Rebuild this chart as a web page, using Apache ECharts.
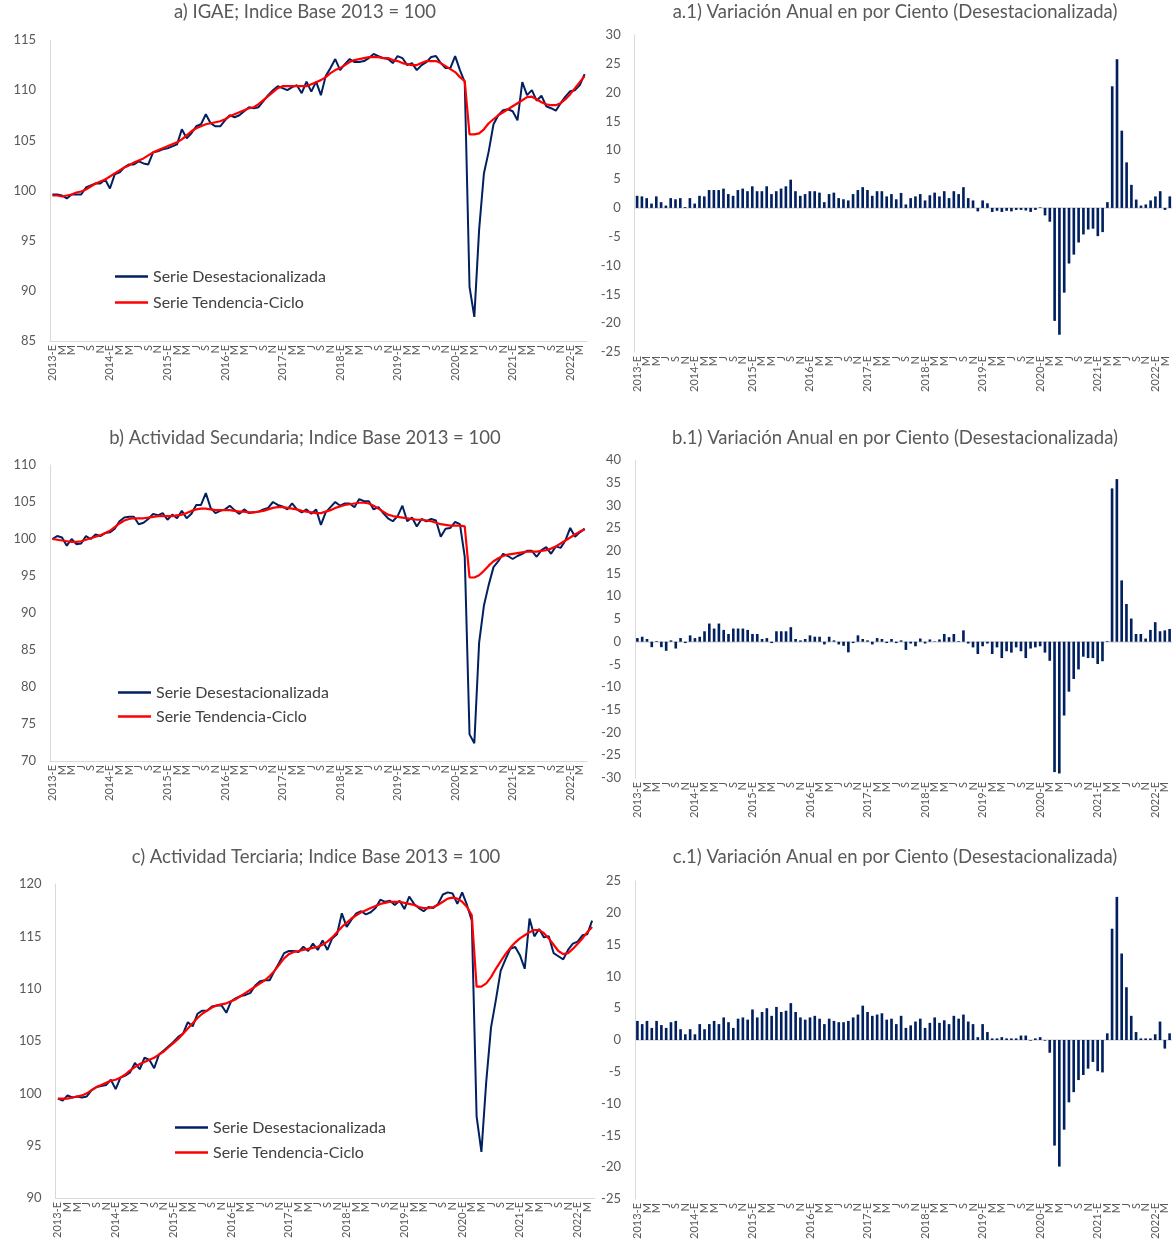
<!DOCTYPE html>
<html><head><meta charset="utf-8">
<script src="https://cdn.jsdelivr.net/npm/echarts@6/dist/echarts.min.js"></script>
<style>html,body{margin:0;padding:0;background:#fff}#c{width:1174px;height:1241px}</style>
</head><body><div id="c"></div>
<script>
// ---------- DATA ----------
const years = [2013,2014,2015,2016,2017,2018,2019,2020,2021,2022];
const monthLetters = ['E','F','M','A','M','J','J','A','S','O','N','D'];
const nMonths = 112; // 2013-E .. 2022-A
const categories = [];
for (let k = 0; k < nMonths; k++) {
  categories.push(years[Math.floor(k / 12)] + '-' + monthLetters[k % 12]);
}

const saIGAE = [99.6,99.6,99.5,99.2,99.6,99.6,99.6,100.3,100.5,100.7,100.7,101.1,
100.2,101.6,101.8,102.3,102.6,102.6,102.9,102.7,102.6,103.8,103.9,104.1,
104.2,104.4,104.6,106.1,105.2,105.7,106.4,106.6,107.6,106.7,106.4,106.4,
107.0,107.5,107.3,107.5,107.9,108.3,108.2,108.3,108.9,109.5,110.0,110.4,
110.2,110.0,110.3,110.5,109.7,110.85,109.85,110.85,109.5,111.4,112.2,113.1,
112.0,112.6,113.1,112.8,112.8,112.9,113.2,113.6,113.4,113.2,113.1,112.7,
113.4,113.2,112.5,112.7,112.0,112.5,112.8,113.3,113.4,112.7,112.2,112.2,
113.4,112.0,110.8,90.4,87.4,96.1,101.7,103.9,106.6,107.5,108.0,108.1,
107.9,107.0,110.8,109.5,110.0,108.95,109.45,108.4,108.2,107.95,108.7,109.35,
109.9,110.0,110.5,111.6];
const tcIGAE = [99.5,99.5,99.4,99.5,99.6,99.8,99.9,100.1,100.4,100.7,100.9,101.1,
101.4,101.7,102.0,102.3,102.5,102.8,103.0,103.2,103.5,103.8,104.0,104.2,
104.4,104.6,104.8,105.1,105.5,105.9,106.2,106.4,106.6,106.7,106.8,106.9,
107.1,107.4,107.6,107.8,108.0,108.2,108.3,108.6,109.0,109.4,109.8,110.2,
110.4,110.4,110.4,110.4,110.4,110.4,110.6,110.8,111.0,111.3,111.7,112.0,
112.2,112.5,112.8,113.0,113.1,113.2,113.3,113.3,113.3,113.2,113.2,113.0,
112.9,112.7,112.6,112.5,112.5,112.7,112.9,112.9,112.9,112.7,112.4,112.1,
111.8,111.3,110.9,105.6,105.6,105.7,106.1,106.7,107.1,107.5,107.8,108.1,
108.4,108.7,109.0,109.3,109.35,109.1,108.8,108.6,108.5,108.5,108.7,109.1,
109.6,110.2,110.8,111.4];
const vaIGAE = [2.1,2.0,1.7,0.75,2.0,1.0,0.4,1.7,1.5,1.7,0.15,1.7,
0.75,2.1,2.0,3.1,3.1,3.1,3.35,2.4,2.1,3.1,3.35,2.9,
3.75,2.9,2.9,3.75,2.4,2.9,3.35,3.75,4.9,2.9,2.1,2.4,
2.9,2.9,2.65,1.0,2.4,2.65,1.7,1.5,1.3,2.4,3.1,3.6,
3.1,2.1,2.9,2.9,2.0,2.4,1.5,2.6,0.6,1.7,2.0,2.4,
1.3,2.2,2.65,2.0,2.9,1.7,2.9,2.4,3.6,1.7,1.3,-0.6,
1.3,0.8,-0.7,-0.5,-0.7,-0.5,-0.6,-0.35,-0.35,-0.45,-0.7,-0.35,
0.1,-1.3,-2.4,-19.6,-22.0,-14.7,-9.65,-8.1,-6.0,-4.6,-3.75,-3.6,
-4.9,-4.2,1.0,21.1,25.8,13.4,7.9,4.0,1.45,0.4,0.6,1.3,
2.0,2.9,-0.35,2.0];

const saSec = [100.0,100.4,100.2,99.1,100.0,99.3,99.4,100.4,100.0,100.6,100.4,100.8,
100.9,101.4,102.4,102.9,103.0,103.0,102.0,102.2,102.7,103.4,103.2,103.5,
102.6,103.3,102.8,103.8,102.8,103.4,104.6,104.6,106.2,104.2,103.5,103.8,
104.0,104.5,103.9,103.4,104.0,103.5,103.6,103.7,104.0,104.2,105.0,104.6,
104.4,104.0,104.8,104.0,103.6,104.0,103.4,104.0,101.9,103.6,104.3,105.0,
104.5,104.8,104.8,104.3,105.4,105.1,105.1,104.0,104.3,103.5,102.8,102.4,
103.1,104.5,102.4,102.9,101.7,102.7,102.4,102.7,102.5,100.3,101.4,101.5,
102.3,102.0,97.6,73.6,72.4,86.0,91.0,93.8,96.2,97.0,98.0,97.7,
97.3,97.7,98.0,98.4,98.4,97.6,98.5,98.9,98.0,99.0,98.8,99.8,
101.5,100.3,100.9,101.4];
const tcSec = [100.0,99.9,99.8,99.7,99.6,99.6,99.7,99.9,100.1,100.3,100.5,100.8,
101.1,101.6,102.1,102.5,102.7,102.8,102.8,102.8,102.9,103.0,103.1,103.1,
103.1,103.1,103.2,103.3,103.5,103.8,104.0,104.1,104.1,104.0,103.9,103.9,
103.9,103.9,103.8,103.7,103.7,103.6,103.6,103.7,103.8,104.0,104.2,104.3,
104.3,104.2,104.1,104.0,103.8,103.7,103.6,103.5,103.5,103.7,103.9,104.2,
104.4,104.6,104.7,104.8,104.9,104.9,104.8,104.5,104.1,103.7,103.3,103.1,
103.0,102.9,102.8,102.7,102.6,102.6,102.5,102.4,102.2,102.0,101.9,101.8,
101.8,101.8,101.7,94.8,94.8,95.1,95.7,96.4,97.0,97.4,97.7,97.9,
98.0,98.1,98.2,98.3,98.3,98.3,98.4,98.5,98.7,99.0,99.4,99.8,
100.2,100.6,101.0,101.3];
const vaSec = [0.8,1.1,0.6,-1.2,0.15,-1.2,-2.0,0.3,-1.5,0.8,-0.3,1.4,
0.8,1.1,2.3,4.0,2.9,4.0,2.6,1.7,2.9,2.9,2.9,2.6,
1.7,1.7,0.6,0.8,-0.3,2.3,2.3,2.3,3.2,0.6,0.3,0.6,
1.4,1.1,1.1,-0.6,1.1,0.3,-0.6,-0.9,-2.35,-0.3,1.4,0.6,
0.3,-0.6,0.8,0.6,-0.3,0.6,-0.3,0.3,-1.8,-0.4,-1.0,0.7,
-0.4,0.5,0.1,0.5,1.7,1.0,1.7,0.15,2.5,-0.4,-1.25,-2.7,
-1.0,-0.4,-2.7,-1.25,-3.6,-2.1,-2.4,-1.25,-2.1,-3.6,-1.5,-1.25,
-1.0,-2.4,-4.2,-28.7,-29.0,-16.25,-11.0,-8.2,-6.1,-3.3,-3.6,-3.6,
-4.9,-4.3,0.15,33.75,35.8,13.5,8.3,5.1,1.7,1.7,0.7,2.6,
4.3,2.3,2.5,2.8];

const saTer = [99.5,99.3,99.8,99.6,99.7,99.6,99.7,100.3,100.6,100.7,100.8,101.3,
100.4,101.5,101.7,102.0,102.9,102.3,103.4,103.2,102.4,103.7,104.1,104.5,
104.9,105.4,105.7,106.8,106.4,107.6,107.9,107.9,108.3,108.4,108.4,107.7,
108.8,109.1,109.3,109.4,109.6,110.3,110.7,110.8,110.8,111.7,112.5,113.4,
113.6,113.6,113.5,114.0,113.6,114.3,113.7,114.6,113.7,114.8,115.2,117.2,
115.9,116.6,117.2,117.4,117.1,117.3,117.7,118.5,118.3,118.4,118.0,118.4,
117.6,118.8,118.1,117.7,117.4,117.8,117.7,118.1,119.0,119.2,119.1,118.1,
119.2,118.0,116.5,97.8,94.4,101.1,106.3,108.9,111.7,112.8,113.8,114.0,
113.2,111.9,116.7,115.0,115.7,114.9,115.0,113.4,113.1,112.8,113.7,114.3,
114.5,115.1,115.2,116.5];
const tcTer = [99.5,99.5,99.5,99.6,99.7,99.8,100.0,100.3,100.6,100.8,101.0,101.2,
101.3,101.5,101.8,102.2,102.5,102.8,103.0,103.2,103.4,103.7,104.0,104.4,
104.8,105.2,105.7,106.2,106.7,107.2,107.6,107.9,108.2,108.4,108.5,108.6,
108.8,109.0,109.3,109.6,109.9,110.2,110.5,110.8,111.2,111.7,112.3,112.9,
113.3,113.5,113.6,113.7,113.8,113.9,114.0,114.2,114.5,114.9,115.4,115.9,
116.3,116.7,117.0,117.3,117.5,117.7,117.9,118.1,118.2,118.3,118.3,118.3,
118.2,118.1,118.0,117.8,117.7,117.7,117.8,118.0,118.3,118.6,118.7,118.6,
118.3,117.8,117.0,110.2,110.2,110.5,111.1,111.9,112.6,113.3,113.9,114.4,
114.8,115.1,115.4,115.6,115.6,115.3,114.8,114.2,113.6,113.3,113.4,113.8,
114.3,114.8,115.4,115.9];
const vaTer = [3.0,2.5,3.0,1.9,3.0,2.35,1.9,2.8,3.0,1.7,0.9,1.7,
0.9,2.5,1.7,2.5,3.0,2.5,3.55,2.8,1.9,3.35,3.55,3.2,
4.8,3.55,4.4,5.0,3.8,5.2,4.4,4.6,5.8,4.4,3.55,3.2,
3.55,3.8,3.35,2.5,3.35,3.0,2.8,2.8,3.0,3.55,4.0,5.4,
4.4,3.8,4.0,4.2,3.2,3.35,2.5,3.8,1.9,2.3,2.9,3.35,
1.9,2.7,3.55,2.7,3.1,2.5,3.8,3.35,4.0,2.9,2.5,0.45,
2.5,1.25,0.25,0.25,0.45,0.25,0.25,0.25,0.7,0.7,-0.1,0.25,
0.45,-0.1,-2.0,-16.6,-19.9,-14.1,-9.8,-8.2,-6.3,-5.5,-4.5,-3.45,
-4.9,-5.1,1.05,17.5,22.5,13.6,8.3,3.8,1.25,0.25,0.25,0.25,
0.9,2.9,-1.35,1.05];

const titles = [
  'a) IGAE; Indice Base 2013 = 100',
  'a.1) Variación Anual en por Ciento (Desestacionalizada)',
  'b) Actividad Secundaria; Indice Base 2013 = 100',
  'b.1) Variación Anual en por Ciento (Desestacionalizada)',
  'c) Actividad Terciaria; Indice Base 2013 = 100',
  'c.1) Variación Anual en por Ciento (Desestacionalizada)'
];
const legendNames = ['Serie Desestacionalizada', 'Serie Tendencia-Ciclo'];
const yRanges = [[85,115],[-25,30],[70,110],[-30,40],[90,120],[-25,25]];

// ---------- LAYOUT / STYLE ----------
const FONT = 'Lato, "Liberation Sans", sans-serif';
const NAVY = '#002060', RED = '#ff0000', AX = '#d9d9d9', TXT = '#595959';
const grids = [
  {left:50, top:40, width:537, height:301},
  {left:634.7, top:35, width:537.5, height:317},
  {left:50, top:465, width:537, height:296},
  {left:635, top:460, width:537, height:318},
  {left:55.5, top:884, width:539, height:314},
  {left:635, top:881, width:537, height:318}
];
const titlePos = [[305,3],[895,3],[305,429],[895,429],[316,848],[895,848]];
const legendPos = [[115,267],[118,683],[175,1118]];
const legendGap = [7,5,6];

const isBar = i => i % 2 === 1;

const option = {
  animation: false,
  textStyle: {fontFamily: FONT},
  title: titles.map((t, i) => ({
    text: t, left: titlePos[i][0], top: titlePos[i][1], textAlign: 'center', padding: 0,
    textStyle: {fontSize: 18.5, fontWeight: 'normal', color: TXT, fontFamily: FONT}
  })),
  legend: legendPos.map((p, i) => ({
    data: legendNames, orient: 'vertical', left: p[0], top: p[1], padding: 0,
    icon: 'rect', itemWidth: 33, itemHeight: 2.5, itemGap: legendGap[i],
    textStyle: {fontSize: 16, color: '#404040', fontFamily: FONT, lineHeight: 19}
  })),
  grid: grids.map(g => Object.assign({containLabel: false, outerBoundsMode: 'none'}, g)),
  xAxis: grids.map((g, i) => ({
    type: 'category', gridIndex: i, data: categories, boundaryGap: true,
    axisTick: {show: false},
    axisLine: {show: !isBar(i), onZero: false, lineStyle: {color: AX, width: 1}},
    axisLabel: {
      rotate: 90, interval: 0, fontSize: 11, color: TXT, margin: 4, fontFamily: FONT,
      hideOverlap: false,
      formatter: (v, idx) => (idx % 2 === 1 ? '' : (idx % 12 === 0 ? v : v.split('-')[1]))
    },
    splitLine: {show: false}
  })),
  yAxis: yRanges.map((r, i) => ({
    type: 'value', gridIndex: i, min: r[0], max: r[1], interval: 5,
    axisLine: {show: true, lineStyle: {color: AX, width: 1}},
    axisTick: {show: false}, splitLine: {show: false},
    axisLabel: {fontSize: 13, color: TXT, margin: 14, fontFamily: FONT}
  })),
  series: []
};

const lineSets = [[saIGAE, tcIGAE, 0], [saSec, tcSec, 2], [saTer, tcTer, 4]];
lineSets.forEach(([sa, tc, gi]) => {
  option.series.push({
    name: legendNames[0], type: 'line', xAxisIndex: gi, yAxisIndex: gi, data: sa,
    symbol: 'none', color: NAVY, lineStyle: {color: NAVY, width: 2}, z: 2
  });
  option.series.push({
    name: legendNames[1], type: 'line', xAxisIndex: gi, yAxisIndex: gi, data: tc,
    symbol: 'none', color: RED, lineStyle: {color: RED, width: 2.2}, z: 3
  });
});
const barSets = [[vaIGAE, 1], [vaSec, 3], [vaTer, 5]];
barSets.forEach(([va, gi]) => {
  option.series.push({
    name: 'Variación ' + gi, type: 'bar', xAxisIndex: gi, yAxisIndex: gi, data: va,
    barWidth: '55%', itemStyle: {color: NAVY},
    markLine: {
      silent: true, symbol: 'none', label: {show: false}, z: 1,
      lineStyle: {color: AX, type: 'solid', width: 1.5},
      data: [{yAxis: 0}]
    }
  });
});

const chart = echarts.init(document.getElementById('c'), null, {renderer: 'canvas'});
chart.setOption(option);
</script>
</body></html>
